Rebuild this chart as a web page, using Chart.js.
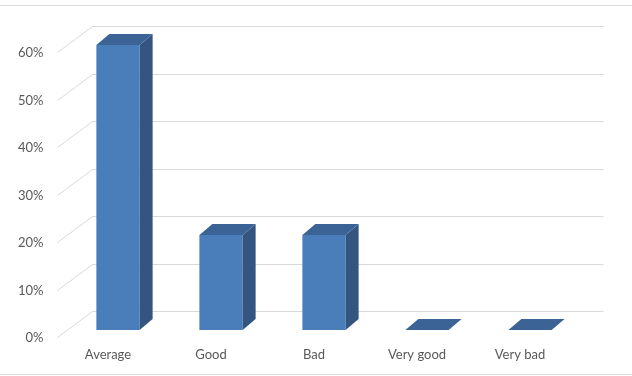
<!DOCTYPE html>
<html>
<head>
<meta charset="utf-8">
<script src="https://cdn.jsdelivr.net/npm/chart.js@4/dist/chart.umd.min.js"></script>
<style>
  html, body { margin: 0; padding: 0; background: #fff; }
  #wrap { width: 632px; height: 376px; }
</style>
</head>
<body>
<div id="wrap"><canvas id="chart" width="632" height="376"></canvas></div>
<script>
(function () {
    'use strict';

    // ─── Data ────────────────────────────────────────────────────────────────
    const categories = ['Average', 'Good', 'Bad', 'Very good', 'Very bad'];
    const shares     = [60, 20, 20, 0, 0];
    const yTicks     = [0, 10, 20, 30, 40, 50, 60];

    const FRONT = '#4a7ebb';
    const SIDE  = '#33557f';
    const TOP   = '#3b6396';
    const GRID  = '#d9d9d9';
    const DEPTH_X = 13, DEPTH_Y = 11;     // bar depth
    const BACK_X = 26,  BACK_Y = 19;      // wall offset from bar plane
    const FRONT_X = -9, FRONT_Y = 7;      // floor front edge offset

    // ─── 3D look: back wall grid + bar sides/tops ───────────────────────────
    const threeD = {
        id: 'threeD',
        beforeDraw(chart) {
            const ctx = chart.ctx, w = chart.width;
            ctx.save();
            ctx.strokeStyle = GRID;
            ctx.lineWidth = 1;
            ctx.beginPath();
            ctx.moveTo(0, 5.5); ctx.lineTo(w, 5.5);
            ctx.moveTo(0, 374.5); ctx.lineTo(w, 374.5);
            ctx.stroke();
            ctx.restore();
        },
        beforeDatasetsDraw(chart) {
            const ctx = chart.ctx, a = chart.chartArea, y = chart.scales.y;
            ctx.save();
            ctx.strokeStyle = GRID;
            ctx.lineWidth = 1;
            yTicks.forEach(v => {
                const py = Math.round(y.getPixelForValue(v)) + 0.5;
                ctx.beginPath();
                ctx.moveTo(a.left + FRONT_X, py + FRONT_Y);
                ctx.lineTo(a.left + BACK_X, py - BACK_Y);
                ctx.lineTo(a.right + 22, py - BACK_Y);
                ctx.stroke();
            });
            ctx.restore();
        },
        afterDatasetsDraw(chart) {
            const ctx = chart.ctx;
            const meta = chart.getDatasetMeta(0);
            ctx.save();
            meta.data.forEach(bar => {
                const { x, y, base, width } = bar.getProps(['x', 'y', 'base', 'width'], true);
                const l = x - width / 2, r = x + width / 2;
                // side
                if (base - y > 0.5) {
                    ctx.fillStyle = SIDE;
                    ctx.beginPath();
                    ctx.moveTo(r, y);
                    ctx.lineTo(r + DEPTH_X, y - DEPTH_Y);
                    ctx.lineTo(r + DEPTH_X, base - DEPTH_Y);
                    ctx.lineTo(r, base);
                    ctx.closePath();
                    ctx.fill();
                }
                // top
                ctx.fillStyle = TOP;
                ctx.beginPath();
                ctx.moveTo(l, y);
                ctx.lineTo(l + DEPTH_X, y - DEPTH_Y);
                ctx.lineTo(r + DEPTH_X, y - DEPTH_Y);
                ctx.lineTo(r, y);
                ctx.closePath();
                ctx.fill();
            });
            ctx.restore();
        }
    };

    const font = { family: 'Lato, "Open Sans", sans-serif', size: 13 };

    new Chart(document.getElementById('chart'), {
        type: 'bar',
        data: {
            labels: categories,
            datasets: [{
                data: shares,
                backgroundColor: FRONT,
                borderWidth: 0,
                barPercentage: 0.42,
                categoryPercentage: 1,
            }],
        },
        options: {
            responsive: false,
            animation: false,
            events: [],
            layout: { padding: { top: 45, right: 50.5, left: 0, bottom: 0 } },
            plugins: { legend: { display: false }, tooltip: { enabled: false } },
            scales: {
                x: {
                    grid: { display: false, drawTicks: false },
                    border: { display: false },
                    ticks: { color: '#595959', font, padding: 17, labelOffset: -10, maxRotation: 0 },
                    afterFit: s => { s.height = 46; },
                },
                y: {
                    min: 0,
                    max: 60,
                    grid: { display: false, drawTicks: false },
                    border: { display: false },
                    ticks: {
                        stepSize: 10,
                        color: '#595959',
                        font,
                        padding: 23,
                        labelOffset: 8,
                        callback: v => v + '%',
                    },
                    afterFit: s => { s.width = 66.5; },
                },
            },
        },
        plugins: [threeD],
    });
})();
</script>
</body>
</html>
